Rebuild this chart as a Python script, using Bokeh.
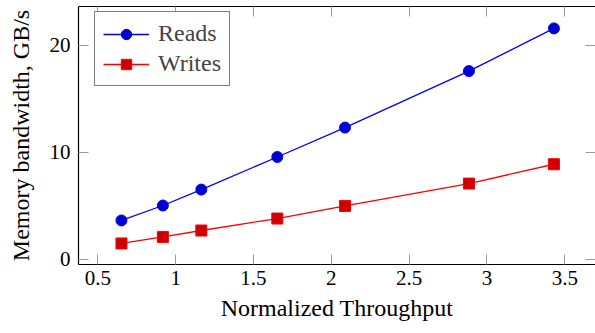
from bokeh.plotting import figure
from bokeh.models import (Range1d, LinearAxis, FixedTicker, Legend, LegendItem,
                          NumeralTickFormatter, CustomJSTickFormatter)
from bokeh.embed import file_html
from bokeh.resources import INLINE

# ---- data ----
throughput = [0.652, 0.918, 1.165, 1.653, 2.088, 2.884, 3.43]
reads = [3.62, 5.02, 6.51, 9.56, 12.31, 17.6, 21.59]
writes = [1.47, 2.08, 2.68, 3.80, 4.98, 7.07, 8.88]
x_ticks = [0.5, 1, 1.5, 2, 2.5, 3, 3.5]
y_ticks = [0, 10, 20]
series_names = ["Reads", "Writes"]

FONT = "Liberation Serif"
TICK_GRAY = "#9a9a9a"

p = figure(width=595, height=333, output_backend="svg", toolbar_location=None,
           x_range=Range1d(0.376, 3.697), y_range=Range1d(-0.5, 23.64),
           min_border_left=78, min_border_right=0, min_border_top=6,
           min_border_bottom=69)
p.outline_line_color = None
p.grid.visible = False
p.background_fill_color = "white"
p.border_fill_color = "white"

def style_axis(ax, ticks):
    ax.ticker = FixedTicker(ticks=ticks)
    ax.major_tick_in = 10
    ax.major_tick_out = 0
    ax.major_tick_line_color = TICK_GRAY
    ax.major_tick_line_width = 1
    ax.minor_tick_line_color = None
    ax.axis_line_color = "black"
    ax.axis_line_width = 1.2
    ax.major_label_text_font = FONT
    ax.major_label_text_font_size = "21px"
    ax.major_label_text_color = "black"
    ax.axis_label_text_font = FONT
    ax.axis_label_text_font_size = "24px"
    ax.axis_label_text_font_style = "normal"
    ax.axis_label_text_color = "black"

xa = p.xaxis[0]
style_axis(xa, x_ticks)
xa.formatter = NumeralTickFormatter(format="0.[0]")
xa.axis_label = "Normalized Throughput"
xa.major_label_standoff = 6
xa.axis_label_standoff = 7

ya = p.yaxis[0]
style_axis(ya, y_ticks)
ya.axis_label = "Memory bandwidth, GB/s"
ya.major_label_standoff = 8
ya.axis_label_standoff = 13

# mirrored tick marks on the top and right sides (no labels)
blank = CustomJSTickFormatter(code="return ''")

top = LinearAxis()
style_axis(top, x_ticks)
top.formatter = blank
top.major_label_text_font_size = "0px"
top.major_label_standoff = 0
p.add_layout(top, "above")

right = LinearAxis()
style_axis(right, y_ticks)
right.formatter = blank
right.major_label_text_font_size = "0px"
right.major_label_standoff = 0
right.axis_line_color = None
p.add_layout(right, "right")

l1 = p.line(throughput, reads, line_color="#0000FF", line_width=1.3)
s1 = p.scatter(throughput, reads, marker="circle", size=11,
               fill_color="#0000CC", line_color="#0000FF", line_width=1)
l2 = p.line(throughput, writes, line_color="#FF0000", line_width=1.3)
s2 = p.scatter(throughput, writes, marker="square", size=11,
               fill_color="#CC0000", line_color="#FF0000", line_width=1)

legend = Legend(items=[LegendItem(label=series_names[0], renderers=[l1, s1]),
                       LegendItem(label=series_names[1], renderers=[l2, s2])],
                location=(16, 178), border_line_color="black", border_line_width=1,
                padding=8, spacing=3, glyph_width=46, glyph_height=26,
                label_standoff=9, label_text_font=FONT, label_text_font_size="24px",
                label_height=26, background_fill_alpha=1, margin=0)
p.add_layout(legend)

open("out.html", "w").write(file_html(p, INLINE))
